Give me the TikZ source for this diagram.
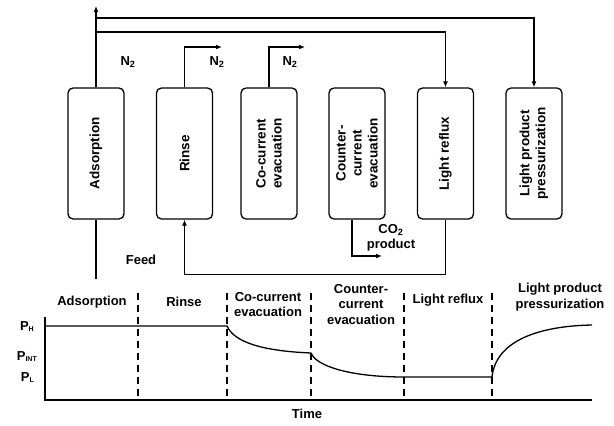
\documentclass[tikz,border=0pt]{standalone}
\usepackage{fontspec}
\setmainfont{Liberation Sans}
\usetikzlibrary{arrows.meta}
\begin{document}
\begin{tikzpicture}[x=1pt,y=-1pt,
 box/.style={draw,line width=1.3pt,rounded corners=5pt,minimum width=56pt,minimum height=131pt,inner sep=0pt},
 boxtxt/.style={rotate=90,align=center,font=\fontsize{13.5}{16}\selectfont\bfseries,inner sep=0pt},
 lbl/.style={align=center,font=\fontsize{13}{15.5}\selectfont\bfseries,inner sep=0pt},
 conn/.style={line width=1.2pt},
 arr/.style={conn,-{Latex[length=6pt,width=5pt]}},
 phase/.style={line width=1.2pt,dash pattern=on 7pt off 5pt},
 curve/.style={line width=1.3pt}]
\useasboundingbox (0,0) rectangle (614,426);
% columns
\node[box] (ads) at (96,153.5) {};
\node[boxtxt] (adsT) at (ads.center) {Adsorption};
\node[box] (rin) at (184.5,153.5) {};
\node[boxtxt] (rinT) at (rin.center) {Rinse};
\node[box] (co) at (269,153.5) {};
\node[boxtxt] (coT) at (co.center) {Co-current\\evacuation};
\node[box] (cc) at (357,153.5) {};
\node[boxtxt] (ccT) at (cc.center) {Counter-\\current\\evacuation};
\node[box] (lr) at (445.5,153.5) {};
\node[boxtxt] (lrT) at (lr.center) {Light reflux};
\node[box] (lpp) at (534,153.5) {};
\node[boxtxt] (lppT) at (lpp.center) {Light product\\pressurization};
% free ends
\coordinate (top) at (96,6);
\coordinate (feedend) at (96,279);
\coordinate (j1) at (96,18);
\coordinate (j2) at (96,32);
\coordinate (rinout) at (222,47);
\coordinate (coout) at (305,47);
\coordinate (ccout) at (382,256);
% connectors
\draw[arr] (ads.north) -- (top);
\draw[conn] (ads.south) -- (feedend);
\draw[arr] (j1) -| (lpp.north);
\draw[arr] (j2) -| (lr.north);
\draw[arr] (rin.north) |- (rinout);
\draw[arr] (co.north) |- (coout);
\draw[arr] ([xshift=-5pt]cc.south) |- (ccout);
\draw[arr] (lr.south) -- ++(0,55) -| (rin.south);
% labels
\node[lbl] (n2a) at (128,62) {N\textsubscript{2}};
\node[lbl] (n2b) at (217,62) {N\textsubscript{2}};
\node[lbl] (n2c) at (290,62) {N\textsubscript{2}};
\node[lbl] (co2) at (391,238) {CO\textsubscript{2}\\product};
\node[lbl] (feed) at (141,260) {Feed};
% chart
\coordinate (o) at (45,400);
\coordinate (ytop) at (45,317);
\coordinate (xend) at (592,400);
\draw[conn] (ytop) -- (o) -- (xend);
\foreach \x/\n in {138/d1,227/d2,311/d3,404/d4,492/d5}{
  \coordinate (\n t) at (\x,293);
  \coordinate (\n b) at (\x,400);
  \draw[phase] (\n t) -- (\n b);
}
\coordinate (ph0) at (45,326);
\coordinate (ph1) at (227,326);
\coordinate (pi1) at (311,353);
\coordinate (pl1) at (404,377);
\coordinate (pl2) at (492,377);
\coordinate (pe) at (592,325);
\draw[curve] (ph0) -- (ph1) .. controls (234,342) and (262,351) .. (pi1)
  .. controls (316,366) and (350,377) .. (pl1) -- (pl2)
  .. controls (496,340) and (540,326) .. (pe);
\node[lbl,anchor=base east] (pH) at (34,330) {P\raisebox{-1.5pt}{\fontsize{7}{7}\selectfont H}};
\node[lbl,anchor=base east] (pINT) at (37,360) {P\raisebox{-1.5pt}{\fontsize{7}{7}\selectfont INT}};
\node[lbl,anchor=base east] (pL) at (34,381) {P\raisebox{-1.5pt}{\fontsize{7}{7}\selectfont L}};
\node[lbl] (time) at (307,414) {Time};
\node[lbl] (tA) at (92,302) {Adsorption};
\node[lbl] (tR) at (184,302) {Rinse};
\node[lbl] (tC) at (268,304.5) {Co-current\\evacuation};
\node[lbl] (tCC) at (361,304.5) {Counter-\\current\\evacuation};
\node[lbl] (tLR) at (448,300) {Light reflux};
\node[lbl] (tLP) at (560,297) {Light product\\pressurization};
\end{tikzpicture}
\end{document}
